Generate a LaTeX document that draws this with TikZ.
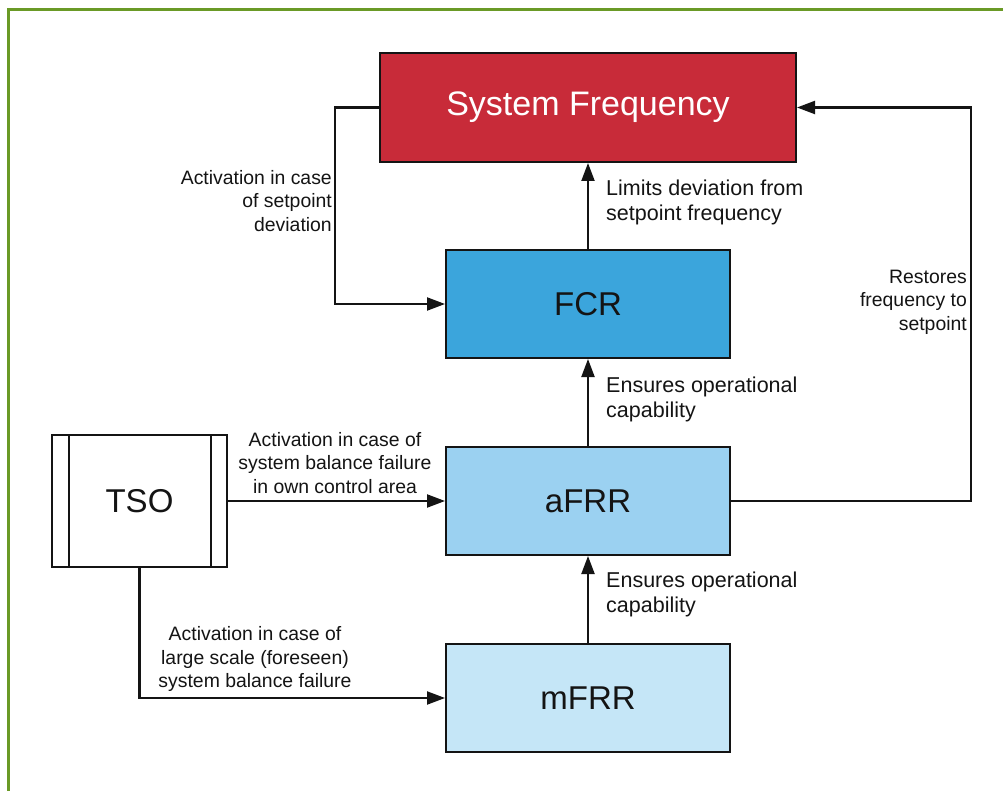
\documentclass[tikz,border=0pt]{standalone}
\usepackage{fontspec}
\setmainfont{Liberation Sans}
\usetikzlibrary{arrows.meta}
\definecolor{sysred}{HTML}{C82B39}
\definecolor{fcrblue}{HTML}{3BA5DC}
\definecolor{afrrblue}{HTML}{9BD1F1}
\definecolor{mfrrblue}{HTML}{C5E6F7}
\definecolor{frame}{HTML}{6A9A26}
\definecolor{ink}{HTML}{141414}
\tikzset{
  block/.style={draw=ink, line width=2pt, minimum width=284pt, minimum height=108pt,
    font=\fontsize{33}{38}\selectfont, text=ink},
  conn/.style={draw=ink, line width=2.1pt, -{Triangle[length=18pt,width=13pt]}},
  lbl/.style={inner sep=0pt, text=ink, font=\fontsize{19.4}{23.5}\selectfont},
  lblbig/.style={inner sep=0pt, text=ink, font=\fontsize{21.5}{25}\selectfont, align=left}
}
\begin{document}
\begin{tikzpicture}[x=1pt,y=-1pt]
\useasboundingbox (0,0) rectangle (1003,791);
\fill[white] (0,0) rectangle (1003,791);
% outer frame
\draw[frame, line width=3pt] (8,791) -- (8,9.5) -- (1003,9.5);

% blocks
\node[block, fill=sysred, text=white, minimum width=416pt, minimum height=109pt,
  font=\fontsize{34}{38}\selectfont] (sf) at (588,107.5) {System Frequency};
\node[block, fill=fcrblue] (fcr) at (588,304) {FCR};
\node[block, fill=afrrblue] (afrr) at (588,501) {aFRR};
\node[block, fill=mfrrblue] (mfrr) at (588,698) {mFRR};
\node[block, fill=white, minimum width=175pt, minimum height=132pt] (tso) at (139.5,501) {TSO};
\draw[ink, line width=2pt] ([xshift=18pt]tso.north west) -- ([xshift=18pt]tso.south west);
\draw[ink, line width=2pt] ([xshift=-17pt]tso.north east) -- ([xshift=-17pt]tso.south east);

% connectors
\draw[conn] (fcr.north) -- (sf.south);
\draw[conn] (afrr.north) -- (fcr.south);
\draw[conn] (mfrr.north) -- (afrr.south);
\draw[conn] (sf.west) -- ++(-44,0) |- (fcr.west);
\draw[conn] (afrr.east) -- ++(240,0) |- (sf.east);
\draw[conn] (tso.east) -- (afrr.west);
\draw[conn] (tso.south) |- (mfrr.west);

% labels
\node[lbl, align=right, anchor=east] (l1) at (332,201) {Activation in case\\of setpoint\\deviation};
\node[lblbig, anchor=west] (l2) at (606,202) {Limits deviation from\\setpoint frequency};
\node[lbl, align=right, anchor=east] (l3) at (967,302) {Restores\\frequency to\\setpoint};
\node[lblbig, anchor=west] (l4) at (606,399) {Ensures operational\\capability};
\node[lbl, align=center] (l5) at (335,463) {Activation in case of\\system balance failure\\in own control area};
\node[lblbig, anchor=west] (l6) at (606,594) {Ensures operational\\capability};
\node[lbl, align=center] (l7) at (255,659) {Activation in case of\\large scale (foreseen)\\system balance failure};
\end{tikzpicture}
\end{document}
